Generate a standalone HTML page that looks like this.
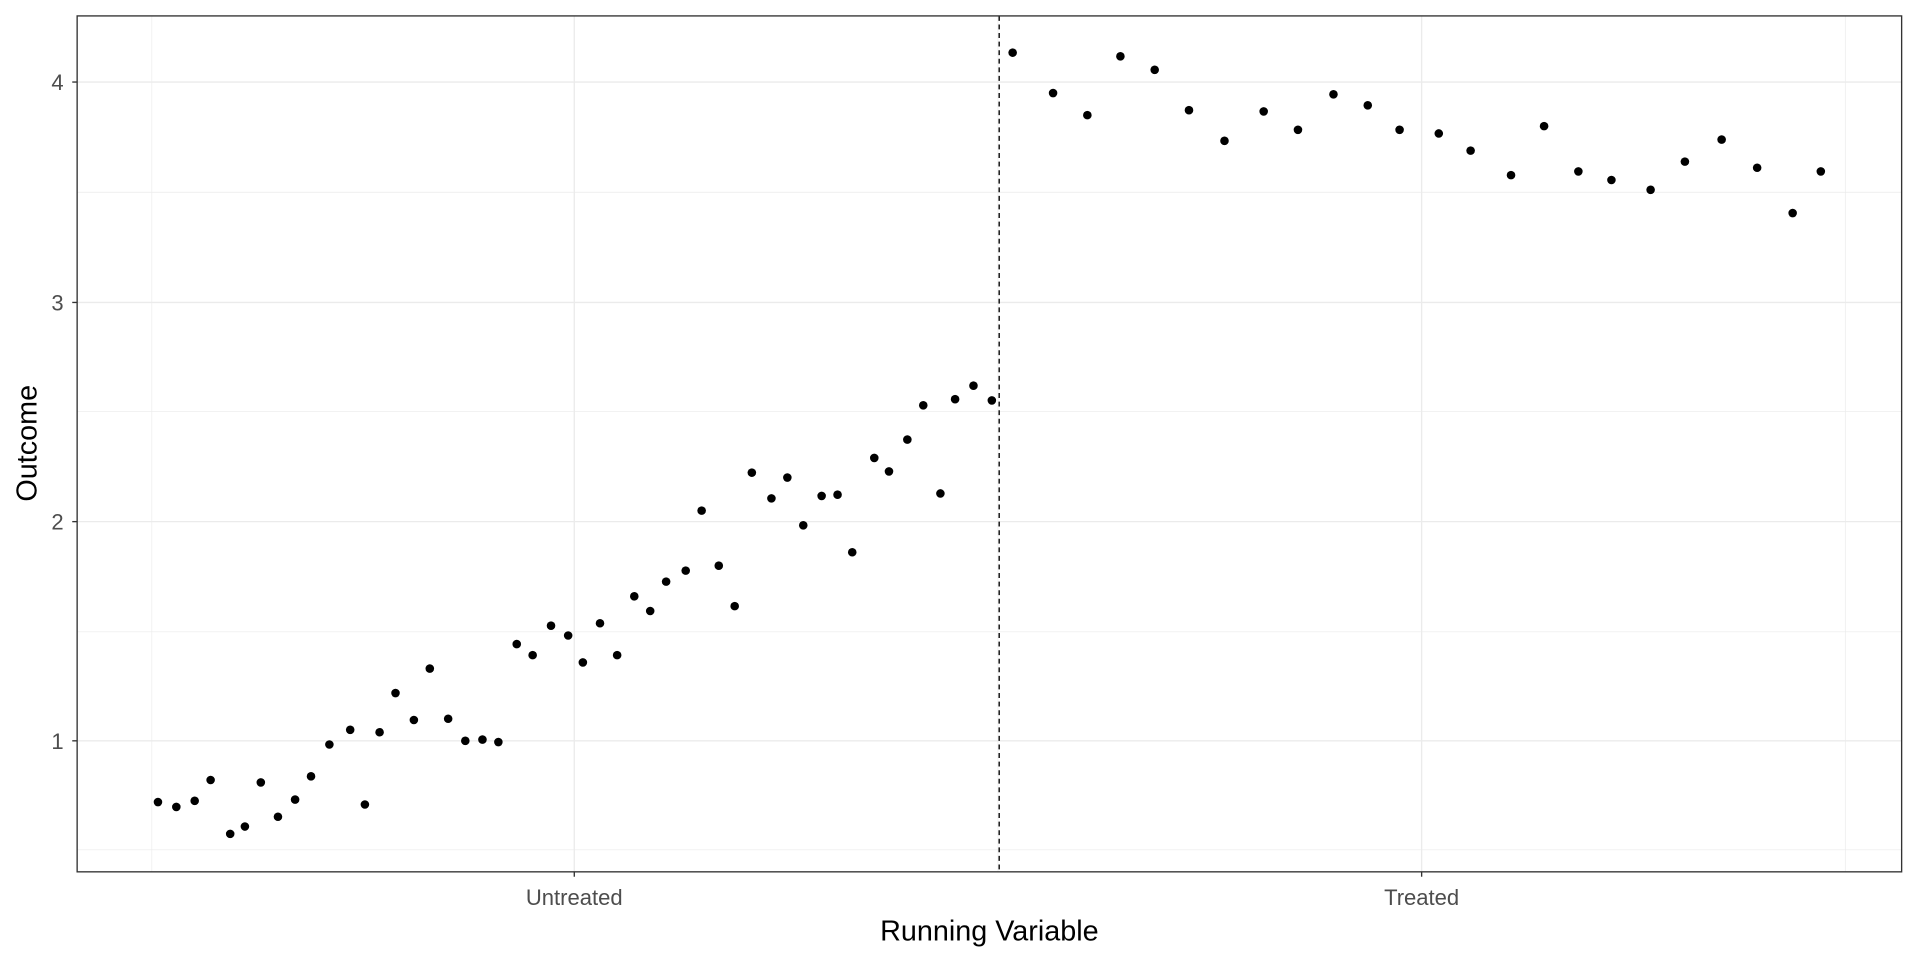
<!DOCTYPE html>
<html><head><style>html,body{margin:0;padding:0;background:#fff}svg{display:block}</style></head>
<body>
<svg width="1920" height="960" viewBox="0 0 1568 784" xmlns="http://www.w3.org/2000/svg" font-family="Liberation Sans, sans-serif">
<rect width="1568" height="784" fill="#fff"/>
<g stroke="#ebebeb" stroke-width="0.55">
<line x1="63" x2="1553" y1="694" y2="694"/><line x1="63" x2="1553" y1="516" y2="516"/>
<line x1="63" x2="1553" y1="336" y2="336"/><line x1="63" x2="1553" y1="157" y2="157"/>
<line x1="124" x2="124" y1="13" y2="712"/><line x1="815" x2="815" y1="13" y2="712"/><line x1="1507" x2="1507" y1="13" y2="712"/>
</g>
<g stroke="#ebebeb" stroke-width="1.1">
<line x1="63" x2="1553" y1="605" y2="605"/><line x1="63" x2="1553" y1="426" y2="426"/>
<line x1="63" x2="1553" y1="247" y2="247"/><line x1="63" x2="1553" y1="67" y2="67"/>
<line x1="469" x2="469" y1="13" y2="712"/><line x1="1161" x2="1161" y1="13" y2="712"/>
</g>
<line x1="816" x2="816" y1="13" y2="712" stroke="#000" stroke-width="1.1" stroke-dasharray="4,3"/>
<g fill="#000">
<circle cx="129" cy="655" r="3.5"/><circle cx="144" cy="659" r="3.5"/><circle cx="159" cy="654" r="3.5"/><circle cx="172" cy="637" r="3.5"/><circle cx="188" cy="681" r="3.5"/><circle cx="200" cy="675" r="3.5"/><circle cx="213" cy="639" r="3.5"/><circle cx="227" cy="667" r="3.5"/><circle cx="241" cy="653" r="3.5"/><circle cx="254" cy="634" r="3.5"/><circle cx="269" cy="608" r="3.5"/><circle cx="286" cy="596" r="3.5"/><circle cx="298" cy="657" r="3.5"/><circle cx="310" cy="598" r="3.5"/><circle cx="323" cy="566" r="3.5"/><circle cx="338" cy="588" r="3.5"/><circle cx="351" cy="546" r="3.5"/><circle cx="366" cy="587" r="3.5"/><circle cx="380" cy="605" r="3.5"/><circle cx="394" cy="604" r="3.5"/><circle cx="407" cy="606" r="3.5"/><circle cx="422" cy="526" r="3.5"/><circle cx="435" cy="535" r="3.5"/><circle cx="450" cy="511" r="3.5"/><circle cx="464" cy="519" r="3.5"/><circle cx="476" cy="541" r="3.5"/><circle cx="490" cy="509" r="3.5"/><circle cx="504" cy="535" r="3.5"/><circle cx="518" cy="487" r="3.5"/><circle cx="531" cy="499" r="3.5"/><circle cx="544" cy="475" r="3.5"/><circle cx="560" cy="466" r="3.5"/><circle cx="573" cy="417" r="3.5"/><circle cx="587" cy="462" r="3.5"/><circle cx="600" cy="495" r="3.5"/><circle cx="614" cy="386" r="3.5"/><circle cx="630" cy="407" r="3.5"/><circle cx="643" cy="390" r="3.5"/><circle cx="656" cy="429" r="3.5"/><circle cx="671" cy="405" r="3.5"/><circle cx="684" cy="404" r="3.5"/><circle cx="696" cy="451" r="3.5"/><circle cx="714" cy="374" r="3.5"/><circle cx="726" cy="385" r="3.5"/><circle cx="741" cy="359" r="3.5"/><circle cx="754" cy="331" r="3.5"/><circle cx="768" cy="403" r="3.5"/><circle cx="780" cy="326" r="3.5"/><circle cx="795" cy="315" r="3.5"/><circle cx="810" cy="327" r="3.5"/>
<circle cx="827" cy="43" r="3.5"/><circle cx="860" cy="76" r="3.5"/><circle cx="888" cy="94" r="3.5"/><circle cx="915" cy="46" r="3.5"/><circle cx="943" cy="57" r="3.5"/><circle cx="971" cy="90" r="3.5"/><circle cx="1000" cy="115" r="3.5"/><circle cx="1032" cy="91" r="3.5"/><circle cx="1060" cy="106" r="3.5"/><circle cx="1089" cy="77" r="3.5"/><circle cx="1117" cy="86" r="3.5"/><circle cx="1143" cy="106" r="3.5"/><circle cx="1175" cy="109" r="3.5"/><circle cx="1201" cy="123" r="3.5"/><circle cx="1234" cy="143" r="3.5"/><circle cx="1261" cy="103" r="3.5"/><circle cx="1289" cy="140" r="3.5"/><circle cx="1316" cy="147" r="3.5"/><circle cx="1348" cy="155" r="3.5"/><circle cx="1376" cy="132" r="3.5"/><circle cx="1406" cy="114" r="3.5"/><circle cx="1435" cy="137" r="3.5"/><circle cx="1464" cy="174" r="3.5"/><circle cx="1487" cy="140" r="3.5"/>
</g>
<rect x="63" y="13" width="1490" height="699" fill="none" stroke="#333" stroke-width="1.1"/>
<g stroke="#333" stroke-width="1.1">
<line x1="59" x2="63" y1="605" y2="605"/><line x1="59" x2="63" y1="426" y2="426"/><line x1="59" x2="63" y1="247" y2="247"/><line x1="59" x2="63" y1="67" y2="67"/>
<line x1="469" x2="469" y1="712" y2="716"/><line x1="1161" x2="1161" y1="712" y2="716"/>
</g>
<g fill="#4d4d4d" font-size="18" text-anchor="end">
<text x="52" y="611.5">1</text><text x="52" y="432.5">2</text><text x="52" y="253.5">3</text><text x="52" y="73.5">4</text>
</g>
<g fill="#4d4d4d" font-size="18" text-anchor="middle">
<text x="469" y="739">Untreated</text><text x="1161" y="739">Treated</text>
</g>
<text x="808" y="768" font-size="23.5" text-anchor="middle" fill="#000">Running Variable</text>
<text transform="translate(30,362) rotate(-90)" font-size="23.5" text-anchor="middle" fill="#000">Outcome</text>
</svg>
</body></html>
